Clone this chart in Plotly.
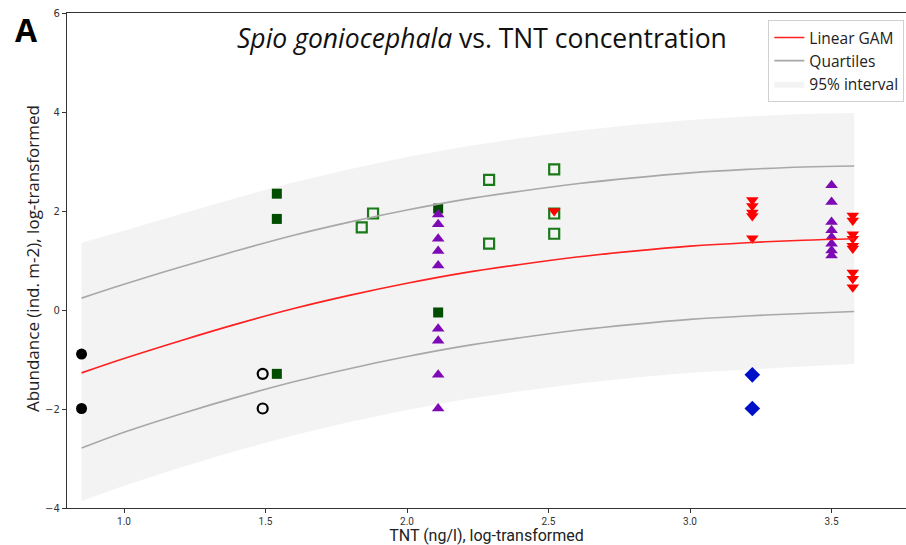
import plotly.graph_objects as go

# ---- curve data ----
curve_x = [0.85, 1.0, 1.2, 1.4, 1.6, 1.8, 2.0, 2.2, 2.4, 2.6, 2.8, 3.0, 3.2, 3.4, 3.58]
gam_y = [-1.27, -0.98, -0.62, -0.28, 0.03, 0.30, 0.54, 0.75, 0.92, 1.07, 1.19, 1.29, 1.36, 1.41, 1.44]
upper_q = [0.24, 0.52, 0.87, 1.20, 1.51, 1.78, 2.02, 2.23, 2.40, 2.55, 2.67, 2.77, 2.84, 2.89, 2.91]
lower_q = [-2.79, -2.47, -2.10, -1.76, -1.45, -1.18, -0.94, -0.73, -0.56, -0.41, -0.29, -0.19, -0.12, -0.07, -0.03]
band_hi = [1.36, 1.60, 1.94, 2.27, 2.58, 2.85, 3.09, 3.30, 3.47, 3.62, 3.74, 3.84, 3.91, 3.96, 3.98]
band_lo = [-3.86, -3.55, -3.18, -2.84, -2.53, -2.26, -2.02, -1.81, -1.64, -1.49, -1.37, -1.27, -1.20, -1.14, -1.09]

# ---- observations ----
black_x = [0.85, 0.85]
black_y = [-0.89, -1.99]
open_circ_x = [1.49, 1.49]
open_circ_y = [-1.29, -1.99]
dgreen_x = [1.54, 1.54, 1.54, 2.11, 2.11]
dgreen_y = [2.35, 1.84, -1.29, 2.05, -0.05]
open_sq_x = [1.84, 1.88, 2.29, 2.29, 2.52, 2.52, 2.52]
open_sq_y = [1.67, 1.95, 2.63, 1.34, 2.84, 1.95, 1.54]
purple_x = [2.11, 2.11, 2.11, 2.11, 2.11, 2.11, 2.11, 2.11, 2.11,
            3.50, 3.50, 3.50, 3.50, 3.50, 3.50, 3.50, 3.50]
purple_y = [1.93, 1.73, 1.44, 1.19, 0.90, -0.38, -0.62, -1.31, -1.99,
            2.52, 2.18, 1.78, 1.61, 1.47, 1.34, 1.20, 1.10]
red_x = [2.52, 3.22, 3.22, 3.22, 3.22, 3.22,
         3.575, 3.575, 3.575, 3.575, 3.575, 3.575, 3.575, 3.575, 3.575]
red_y = [2.0, 2.22, 2.10, 1.97, 1.90, 1.45,
         1.91, 1.81, 1.53, 1.44, 1.30, 1.24, 0.76, 0.63, 0.46]
blue_x = [3.22, 3.22]
blue_y = [-1.31, -1.99]

x_ticks = [1.0, 1.5, 2.0, 2.5, 3.0, 3.5]
y_ticks = [-4, -2, 0, 2, 4, 6]

fig = go.Figure()

# 95% interval band
fig.add_trace(go.Scatter(
    x=curve_x + curve_x[::-1], y=band_hi + band_lo[::-1],
    fill="toself", fillcolor="rgba(240,240,240,0.8)", line=dict(width=0),
    mode="lines", name="95% interval", legendrank=3, hoverinfo="skip"))

mk = dict(mode="markers", showlegend=False)
fig.add_trace(go.Scatter(x=black_x, y=black_y, marker=dict(symbol="circle", size=11, color="black"), **mk))
fig.add_trace(go.Scatter(x=open_circ_x, y=open_circ_y,
                         marker=dict(symbol="circle-open", size=10, color="black", line=dict(width=2.2)), **mk))
fig.add_trace(go.Scatter(x=dgreen_x, y=dgreen_y, marker=dict(symbol="square", size=10, color="#004d00"), **mk))
fig.add_trace(go.Scatter(x=open_sq_x, y=open_sq_y,
                         marker=dict(symbol="square-open", size=10, color="#1a7a1a", line=dict(width=2.2)), **mk))
fig.add_trace(go.Scatter(x=purple_x, y=purple_y, marker=dict(symbol="triangle-up", size=11, color="#7e0ab5"), **mk))
fig.add_trace(go.Scatter(x=red_x, y=red_y, marker=dict(symbol="triangle-down", size=11, color="#ff0000"), **mk))
fig.add_trace(go.Scatter(x=blue_x, y=blue_y, marker=dict(symbol="diamond", size=12, color="#0010c8"), **mk))

# quartile lines
fig.add_trace(go.Scatter(x=curve_x, y=upper_q, mode="lines", line=dict(color="#a8a8a8", width=1.6, shape="spline"),
                         name="Quartiles", legendrank=2))
fig.add_trace(go.Scatter(x=curve_x, y=lower_q, mode="lines", line=dict(color="#a8a8a8", width=1.6, shape="spline"),
                         showlegend=False))
# GAM line
fig.add_trace(go.Scatter(x=curve_x, y=gam_y, mode="lines", line=dict(color="#ff2020", width=1.6, shape="spline"),
                         name="Linear GAM", legendrank=1))

fig.update_layout(
    width=906, height=545,
    margin=dict(l=67, r=0, t=13, b=37),
    paper_bgcolor="white", plot_bgcolor="white",
    font=dict(family="Open Sans, DejaVu Sans", color="#222"),
    showlegend=True,
    legend=dict(x=0.998, y=0.986, xanchor="right", yanchor="top",
                bgcolor="rgba(255,255,255,0.9)", bordercolor="#d0d0d0", borderwidth=1,
                font=dict(size=15.5, color="#222"), tracegroupgap=0, itemwidth=30),
    xaxis=dict(range=[0.7986, 3.763], tickvals=x_ticks, ticktext=[f"{v:.1f}" for v in x_ticks],
               showgrid=False, zeroline=False, showline=True, linecolor="#333", linewidth=1.3,
               mirror=True, ticks="outside", ticklen=4, tickcolor="#333",
               tickfont=dict(size=10, family="Liberation Sans Narrow, Roboto, sans-serif", color="#333"),
               title=dict(text="TNT (ng/l), log-transformed", standoff=3,
                          font=dict(size=16, family="Liberation Sans Narrow, Roboto, sans-serif", color="#222"))),
    yaxis=dict(range=[-4, 6], tickvals=y_ticks, ticktext=[str(v).replace("-", "\u2212") for v in y_ticks],
               showgrid=False, zeroline=False, showline=True, linecolor="#333", linewidth=1.3,
               ticks="outside", ticklen=4, tickcolor="#333",
               tickfont=dict(size=10, family="DejaVu Sans", color="#333")),
    annotations=[
        dict(text="<i>Spio goniocephala</i> vs. TNT concentration", xref="paper", yref="paper",
             x=0.495, y=0.949, showarrow=False, xanchor="center", yanchor="middle",
             font=dict(size=26.5, family="Open Sans", color="#111")),
        dict(text="<b>A</b>", xref="paper", yref="paper", x=-0.048, y=0.966, showarrow=False,
             xanchor="center", yanchor="middle", font=dict(size=32, family="Open Sans", color="black")),
        dict(text="Abundance (ind. m-2), log-transformed", xref="paper", yref="paper", x=-0.0417, y=0.503,
             textangle=-90, showarrow=False, xanchor="center", yanchor="middle",
             font=dict(size=17, family="Open Sans", color="#222")),
    ],
)

fig.write_html("out.html")
